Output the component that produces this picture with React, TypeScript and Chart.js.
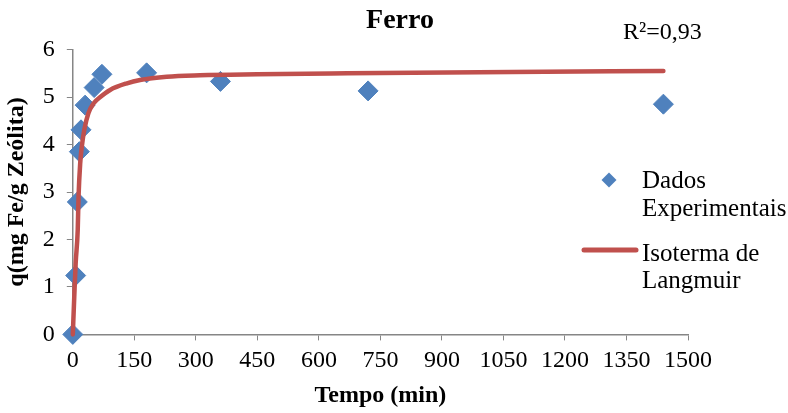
import React, { useEffect, useRef } from "react";
import { Chart, registerables } from "chart.js";

Chart.register(...registerables);

// ---- data ----
const tempoExperimental = [0, 7, 11, 16, 20, 30, 52, 71, 180, 360, 720, 1440];
const qExperimental = [0, 1.24, 2.79, 3.85, 4.31, 4.83, 5.2, 5.48, 5.51, 5.33, 5.13, 4.85];

const tempoLangmuir = [0, 3.6, 7, 12, 14, 18, 22, 28, 38, 51, 67, 91, 132, 164, 229, 310, 450, 670, 1070, 1440];
const qLangmuir = [0, 0.8, 1.5, 2.2, 2.9, 3.6, 3.96, 4.31, 4.66, 4.87, 5.0, 5.15, 5.29, 5.36, 5.43, 5.46, 5.48, 5.5, 5.53, 5.55];

const xTicks = [0, 150, 300, 450, 600, 750, 900, 1050, 1200, 1350, 1500];
const yTicks = [0, 1, 2, 3, 4, 5, 6];

const chartTitle = "Ferro";
const r2Label = "R²=0,93";
const xTitle = "Tempo (min)";
const yTitle = "q(mg Fe/g Zeólita)";
const seriesExperimental = ["Dados", "Experimentais"];
const seriesLangmuir = ["Isoterma de", "Langmuir"];

const BLUE = "#4F81BD";
const RED = "#C0504D";
const AXIS = "#868686";
const FONT = "'Liberation Serif', 'Times New Roman', serif";

const annotationPlugin = {
  id: "excelLegend",
  afterDraw(chart: any) {
    const ctx = chart.ctx as CanvasRenderingContext2D;
    ctx.save();
    ctx.fillStyle = "#000";
    ctx.textBaseline = "alphabetic";

    // chart title
    ctx.textAlign = "center";
    ctx.font = `bold 28px ${FONT}`;
    ctx.fillText(chartTitle, 400, 28);

    ctx.textAlign = "left";
    ctx.font = `24px ${FONT}`;
    ctx.fillText(r2Label, 623, 39);

    // legend: experimental data
    ctx.font = `25px ${FONT}`;
    ctx.fillStyle = BLUE;
    ctx.beginPath();
    const cx = 609, cy = 180, r = 7.5;
    ctx.moveTo(cx, cy - r);
    ctx.lineTo(cx + r, cy);
    ctx.lineTo(cx, cy + r);
    ctx.lineTo(cx - r, cy);
    ctx.closePath();
    ctx.fill();
    ctx.fillStyle = "#000";
    ctx.fillText(seriesExperimental[0], 642, 188);
    ctx.fillText(seriesExperimental[1], 642, 216);

    // legend: Langmuir
    ctx.strokeStyle = RED;
    ctx.lineWidth = 5;
    ctx.lineCap = "round";
    ctx.beginPath();
    ctx.moveTo(584, 250);
    ctx.lineTo(636, 250);
    ctx.stroke();
    ctx.fillText(seriesLangmuir[0], 642, 261);
    ctx.fillText(seriesLangmuir[1], 642, 288);
    ctx.restore();
  },
};

export default function App() {
  const canvasRef = useRef<HTMLCanvasElement | null>(null);

  useEffect(() => {
    document.body.style.margin = "0";
    const canvas = canvasRef.current;
    if (!canvas) return;
    Chart.defaults.font.family = FONT;
    const chart = new Chart(canvas, {
      type: "scatter",
      data: {
        datasets: [
          {
            label: seriesLangmuir.join(" "),
            data: tempoLangmuir.map((t, i) => ({ x: t, y: qLangmuir[i] })),
            showLine: true,
            borderColor: RED,
            backgroundColor: RED,
            borderWidth: 4.5,
            borderCapStyle: "round",
            pointRadius: 0,
            cubicInterpolationMode: "monotone",
            clip: false,
            order: 0,
          },
          {
            label: seriesExperimental.join(" "),
            data: tempoExperimental.map((t, i) => ({ x: t, y: qExperimental[i] })),
            showLine: false,
            pointStyle: "rectRot",
            pointRadius: 10,
            pointBackgroundColor: BLUE,
            pointBorderColor: BLUE,
            pointBorderWidth: 1,
            clip: false,
            order: 1,
          },
        ],
      },
      options: {
        responsive: false,
        animation: false,
        layout: { padding: { left: 0, right: 100, top: 49.6, bottom: 0 } },
        plugins: {
          legend: { display: false },
          tooltip: { enabled: false },
          title: { display: false },
        },
        scales: {
          x: {
            type: "linear",
            min: 0,
            max: 1500,
            afterBuildTicks: (scale: any) => {
              scale.ticks = xTicks.map((v) => ({ value: v }));
            },
            ticks: {
              color: "#000",
              font: { size: 24, family: FONT },
              padding: 6,
              maxRotation: 0,
              autoSkip: false,
              callback: (v: any) => String(v),
            },
            grid: {
              drawOnChartArea: false,
              drawTicks: true,
              tickLength: 6,
              color: AXIS,
              lineWidth: 1,
            },
            border: { color: AXIS, width: 1.5 },
            title: {
              display: true,
              text: xTitle,
              color: "#000",
              font: { size: 24, weight: "bold", family: FONT },
              padding: { top: 0, bottom: 3 },
            },
          },
          y: {
            type: "linear",
            min: 0,
            max: 6,
            afterBuildTicks: (scale: any) => {
              scale.ticks = yTicks.map((v) => ({ value: v }));
            },
            ticks: {
              color: "#000",
              font: { size: 24, family: FONT },
              padding: 12,
              callback: (v: any) => String(v),
            },
            grid: {
              drawOnChartArea: false,
              drawTicks: true,
              tickLength: 6,
              color: AXIS,
              lineWidth: 1,
            },
            border: { color: AXIS, width: 1.5 },
            title: {
              display: true,
              text: yTitle,
              color: "#000",
              font: { size: 24, weight: "bold", family: FONT },
              padding: { top: 2, bottom: 0 },
            },
          },
        },
      },
      plugins: [annotationPlugin],
    } as any);
    return () => chart.destroy();
  }, []);

  return (
    <div style={{ width: 788, height: 413 }}>
      <canvas ref={canvasRef} width={788} height={413} style={{ display: "block" }} />
    </div>
  );
}
